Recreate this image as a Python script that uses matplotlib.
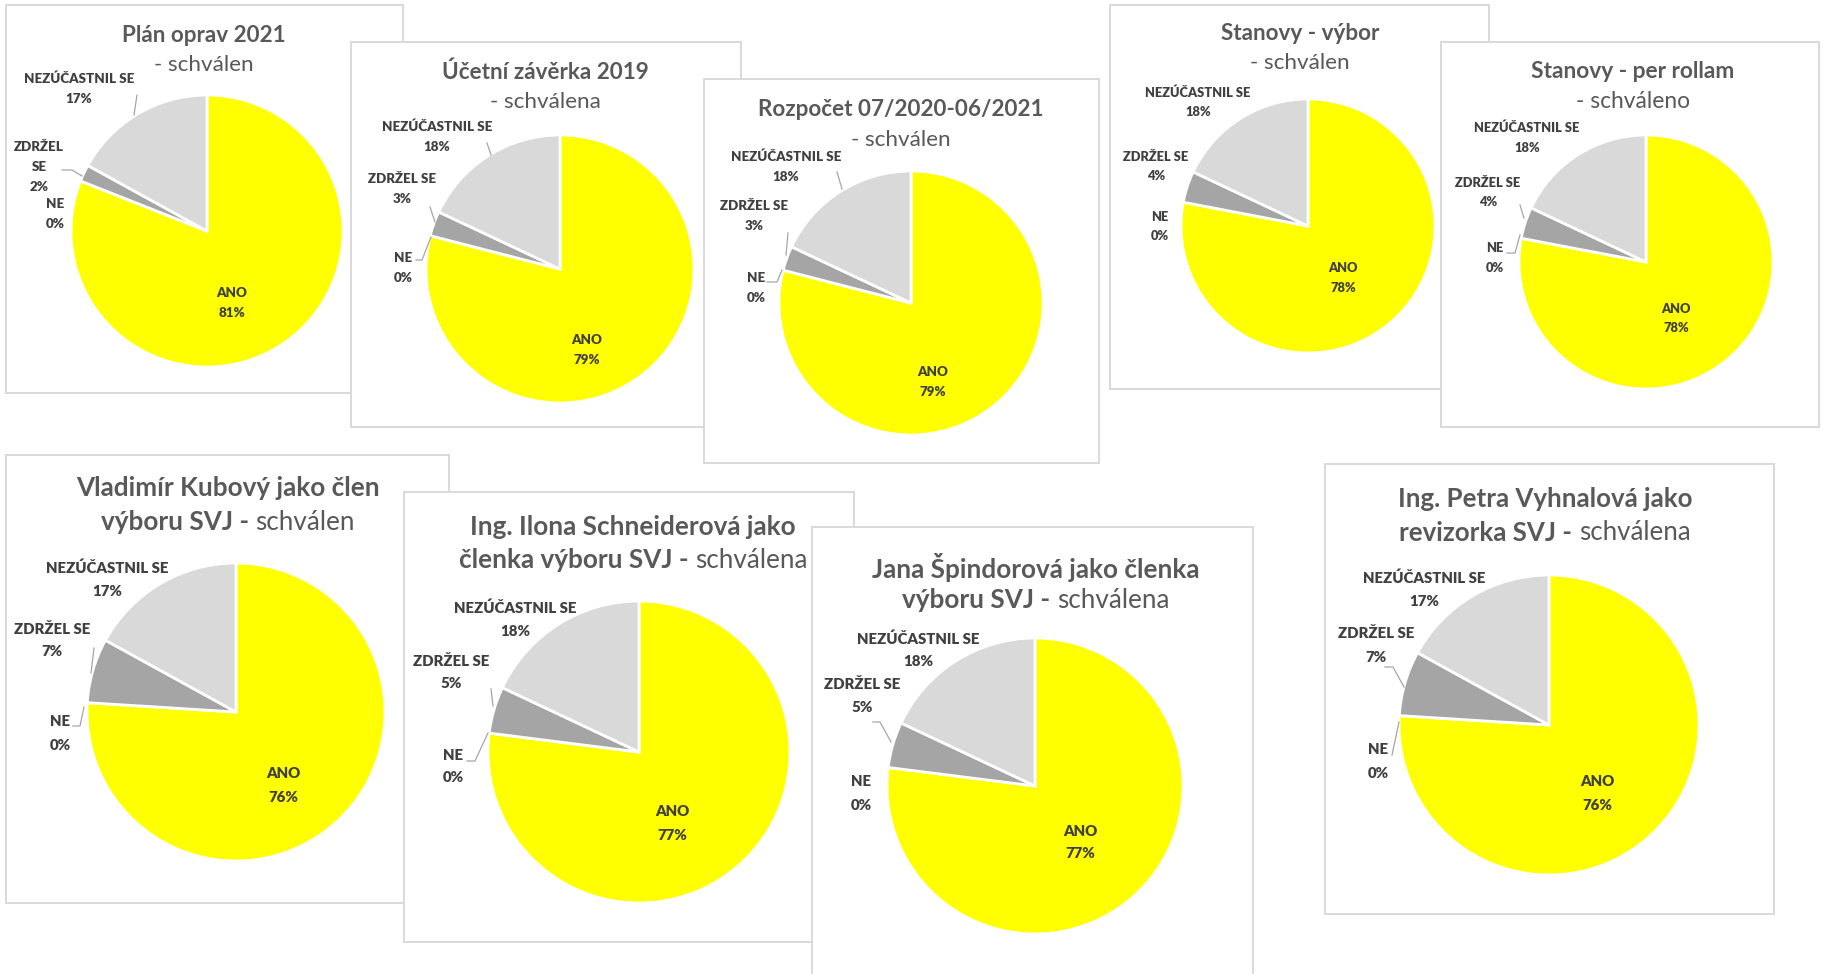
import matplotlib
matplotlib.use('Agg')
import matplotlib.pyplot as plt

plt.rcParams['font.family'] = ['Lato', 'DejaVu Sans']

W, H = 1825, 974

# ---- data: one vote result per chart ----
titles = ["Plán oprav 2021", "Účetní závěrka 2019", "Rozpočet 07/2020-06/2021",
          "Stanovy - výbor", "Stanovy - per rollam",
          "Vladimír Kubový jako člen", "Ing. Ilona Schneiderová jako",
          "Jana Špindorová jako členka", "Ing. Petra Vyhnalová jako"]
subtitles_bold = ["", "", "", "", "",
                  "výboru SVJ -", "členka výboru SVJ -", "výboru SVJ -", "revizorka SVJ -"]
subtitles = ["- schválen", "- schválena", "- schválen", "- schválen", "- schváleno",
             "schválen", "schválena", "schválena", "schválena"]

categories = ["ANO", "NE", "ZDRŽEL SE", "NEZÚČASTNIL SE"]
ano = [81, 79, 79, 78, 78, 76, 77, 77, 76]
ne = [0, 0, 0, 0, 0, 0, 0, 0, 0]
zdrzel = [2, 3, 3, 4, 4, 7, 5, 5, 7]
nezucastnil = [17, 18, 18, 18, 18, 17, 18, 18, 17]

slice_colors = ['#ffff00', '#7f7f7f', '#a5a5a5', '#d9d9d9']

# ---- layout (pixels of the 1825x974 canvas) ----
boxes = [(6, 5, 403, 393), (351, 42, 741, 427), (704, 79, 1099, 463),
         (1110, 5, 1489, 389), (1441, 42, 1819, 427),
         (6, 455, 449, 903), (404, 492, 854, 942), (812, 527, 1253, 985),
         (1325, 464, 1774, 914)]
zorders = [1, 2, 3, 1, 2, 1, 2, 3, 1]
pies = [(207, 231, 136), (560, 269, 134), (911, 303, 132),
        (1308, 226, 127), (1646, 262, 127),
        (236, 712, 149), (639, 752, 151), (1035, 786, 148), (1549, 725, 150)]
title_pos = [(204, 35, 65), (545, 72, 102), (901, 109, 140),
             (1300, 34, 63), (1633, 71, 101),
             (228, 488, 522), (633, 527, 560), (1036, 567, 600), (1545, 499, 533)]
title_size = [16.2, 16.2, 16.2, 16.2, 16.4, 18.8, 18.8, 18.8, 18.6]
label_size = [9.6, 9.6, 9.6, 9.3, 9.3, 10.8, 10.8, 10.8, 10.8]
label_step = [20, 20, 20, 19.5, 19.5, 23, 23, 23, 24]
# first-line centre of each data label, order ANO, NE, ZDRŽEL SE, NEZÚČASTNIL SE
label_pos = [
    [(232, 293), (55, 204), (39, 147), (79, 79)],
    [(587, 340), (403, 258), (402, 179), (437, 127)],
    [(933, 372), (756, 278), (754, 206), (786, 157)],
    [(1343, 268), (1160, 217), (1156, 157), (1198, 93)],
    [(1676, 309), (1495, 248), (1488, 183), (1527, 128)],
    [(283, 774), (60, 722), (52, 629), (107, 568)],
    [(672, 812), (453, 755), (451, 661), (515, 608)],
    [(1080, 831), (861, 782), (862, 684), (918, 639)],
    [(1597, 782), (1378, 750), (1376, 633), (1424, 578)],
]
wrap_label = [True] + [False] * 8
leaders = [
    [[(137, 95), (134, 115)], [(62, 170), (72, 170), (82, 176)]],
    [[(487, 143), (491, 155)], [(430, 207), (435, 222)], [(416, 260), (422, 260), (431, 237)]],
    [[(837, 172), (842, 189)], [(788, 233), (786, 255)], [(767, 282), (777, 282), (782, 270)]],
    [],
    [[(1520, 205), (1524, 218)], [(1507, 253), (1515, 253), (1520, 235)]],
    [[(94, 648), (91, 673)], [(73, 726), (80, 726), (84, 707)]],
    [[(491, 689), (493, 706)], [(467, 761), (475, 761), (488, 733)]],
    [[(873, 722), (880, 722), (891, 742)]],
    [[(1385, 667), (1393, 667), (1404, 687)], [(1392, 755), (1399, 722)]],
]

TITLE_C = '#595959'
LABEL_C = '#404040'

fig = plt.figure(figsize=(W / 100, H / 100), dpi=100)
fig.patch.set_facecolor('white')
renderer = fig.canvas.get_renderer()

for i in range(len(titles)):
    x0, y0, x1, y1 = boxes[i]
    w, h = x1 - x0, y1 - y0
    ax = fig.add_axes([x0 / W, 1 - y1 / H, w / W, h / H], zorder=zorders[i])
    ax.set_facecolor('white')

    def P(x, y):
        return x - x0, y1 - y

    cx, cy, r = pies[i]
    vals = [ano[i], ne[i], zdrzel[i], nezucastnil[i]]
    ax.pie(vals, colors=slice_colors, startangle=90, counterclock=False,
           center=P(cx, cy), radius=r, frame=True,
           wedgeprops=dict(edgecolor='white', linewidth=2))

    # title
    tx, ty1, ty2 = title_pos[i]
    ax.text(*P(tx, ty1), titles[i], ha='center', va='center', fontsize=title_size[i],
            fontweight='bold', color=TITLE_C)
    if subtitles_bold[i] == "":
        ax.text(*P(tx, ty2), subtitles[i], ha='center', va='center',
                fontsize=title_size[i], color=TITLE_C)
    else:
        tb = ax.text(0, P(tx, ty2)[1], subtitles_bold[i], ha='left', va='center',
                     fontsize=title_size[i], fontweight='bold', color=TITLE_C)
        tr = ax.text(0, P(tx, ty2)[1], subtitles[i], ha='left', va='center',
                     fontsize=title_size[i], color=TITLE_C)
        wb = tb.get_window_extent(renderer).width
        wr = tr.get_window_extent(renderer).width
        gap = title_size[i] * 0.35
        left = P(tx, ty2)[0] - (wb + gap + wr) / 2
        tb.set_x(left)
        tr.set_x(left + wb + gap)

    # data labels
    for k, cat in enumerate(categories):
        lx, ly = label_pos[i][k]
        name = cat
        if wrap_label[i] and cat == "ZDRŽEL SE":
            name = "ZDRŽEL\nSE"
        lines = name.split("\n") + [f"{vals[k]}%"]
        for j, line in enumerate(lines):
            ax.text(*P(lx, ly + j * label_step[i]), line, ha='center', va='center',
                    fontsize=label_size[i], fontweight='heavy', color=LABEL_C)

    for pts in leaders[i]:
        xs = [P(x, y)[0] for x, y in pts]
        ys = [P(x, y)[1] for x, y in pts]
        ax.plot(xs, ys, color='#a6a6a6', lw=0.9)

    ax.set_aspect('auto')
    ax.set_xlim(0, w)
    ax.set_ylim(0, h)
    ax.set_xticks([])
    ax.set_yticks([])
    for sp in ax.spines.values():
        sp.set_color('#d9d9d9')
        sp.set_linewidth(1.4)

fig.savefig('out.png', dpi=100, facecolor='white')
